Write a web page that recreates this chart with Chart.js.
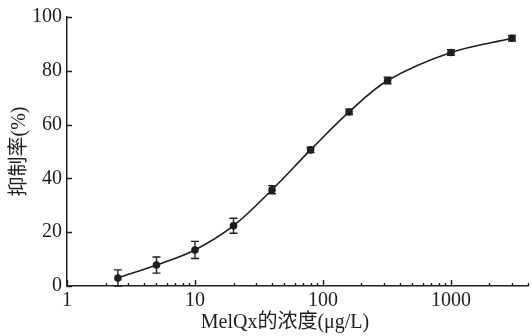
<!DOCTYPE html>
<html>
<head>
<meta charset="utf-8">
<script src="https://cdn.jsdelivr.net/npm/chart.js@4.4.0/dist/chart.umd.min.js"></script>
<style>
html,body{margin:0;padding:0;background:#fff;}
#wrap{width:532px;height:336px;position:relative;}
</style>
</head>
<body>
<div id="wrap"><canvas id="c" width="532" height="336"></canvas></div>
<script>
// Data
const concentrations = [2.5, 5, 10, 20, 40, 80, 160, 320, 1000, 3000];
const inhibition = [3.0, 7.8, 13.4, 22.4, 35.8, 50.6, 64.7, 76.4, 86.8, 92.1];
const errors = [3.0, 3.0, 3.2, 2.8, 1.5, 1.0, 1.0, 1.2, 1.0, 1.0];
const xTickLabels = [1, 10, 100, 1000];
const yTickValues = [0, 20, 40, 60, 80, 100];
const xTitle = 'MelQx的浓度(μg/L)';
const yTitle = '抑制率(%)';

const INK = '#1e1e1e';
const FONT = '"Liberation Serif", "Noto Sans CJK SC", serif';

const points = concentrations.map((c, i) => ({x: c, y: inhibition[i]}));

const decorPlugin = {
  id: 'decor',
  afterDatasetsDraw(chart) {
    const ctx = chart.ctx;
    const xs = chart.scales.x, ys = chart.scales.y;
    ctx.save();
    ctx.strokeStyle = INK;
    ctx.lineWidth = 1.4;
    // error bars
    concentrations.forEach((c, i) => {
      const px = xs.getPixelForValue(c);
      const top = ys.getPixelForValue(inhibition[i] + errors[i]);
      const bot = ys.getPixelForValue(inhibition[i] - errors[i]);
      ctx.beginPath();
      ctx.moveTo(px, top); ctx.lineTo(px, bot);
      ctx.moveTo(px - 4, top); ctx.lineTo(px + 4, top);
      ctx.moveTo(px - 4, bot); ctx.lineTo(px + 4, bot);
      ctx.stroke();
    });
    // inward ticks
    const ca = chart.chartArea;
    ctx.lineWidth = 1.4;
    ctx.beginPath();
    yTickValues.forEach(v => {
      const py = Math.round(ys.getPixelForValue(v)) + 0.5;
      ctx.moveTo(ca.left, py); ctx.lineTo(ca.left + 5, py);
    });
    for (let d = 1; d <= 1000; d *= 10) {
      for (let m = 1; m <= 9; m++) {
        const v = d * m;
        if (v > xs.max) break;
        const px = Math.round(xs.getPixelForValue(v)) + 0.5;
        const len = (m === 1) ? 6 : 3;
        ctx.moveTo(px, ca.bottom); ctx.lineTo(px, ca.bottom - len);
      }
    }
    ctx.stroke();
    // axis titles
    ctx.fillStyle = INK;
    ctx.font = '20px ' + FONT;
    ctx.textAlign = 'center';
    ctx.textBaseline = 'middle';
    ctx.fillText(xTitle, ca.left + 218, 323);
    ctx.translate(20, (ca.top + ca.bottom) / 2);
    ctx.rotate(-Math.PI / 2);
    ctx.fillText(yTitle, 0, 0);
    ctx.restore();
  }
};

new Chart(document.getElementById('c'), {
  type: 'line',
  data: {
    datasets: [{
      data: points,
      borderColor: INK,
      borderWidth: 1.6,
      backgroundColor: INK,
      pointRadius: 3.8,
      pointBackgroundColor: INK,
      pointBorderWidth: 0,
      tension: 0.35,
      fill: false
    }]
  },
  options: {
    responsive: false,
    animation: false,
    layout: {padding: {top: 16, right: 0, left: 0, bottom: 0}},
    plugins: {legend: {display: false}, tooltip: {enabled: false}},
    scales: {
      x: {
        type: 'logarithmic',
        min: 1,
        max: 4000,
        afterBuildTicks(scale) { scale.ticks = xTickLabels.map(v => ({value: v})); },
        afterFit(scale) { scale.height = 50; },
        grid: {display: false, drawTicks: false},
        border: {display: true, color: INK, width: 1.5},
        ticks: {
          color: INK,
          font: {family: FONT, size: 20},
          padding: 3,
          maxRotation: 0,
          autoSkip: false,
          callback: (v) => String(v)
        }
      },
      y: {
        min: 0,
        max: 100,
        afterFit(scale) { scale.width = 67; },
        grid: {display: false, drawTicks: false},
        border: {display: true, color: INK, width: 1.5},
        ticks: {
          stepSize: 20,
          color: INK,
          font: {family: FONT, size: 20},
          padding: 5
        }
      }
    }
  },
  plugins: [decorPlugin]
});
</script>
</body>
</html>
